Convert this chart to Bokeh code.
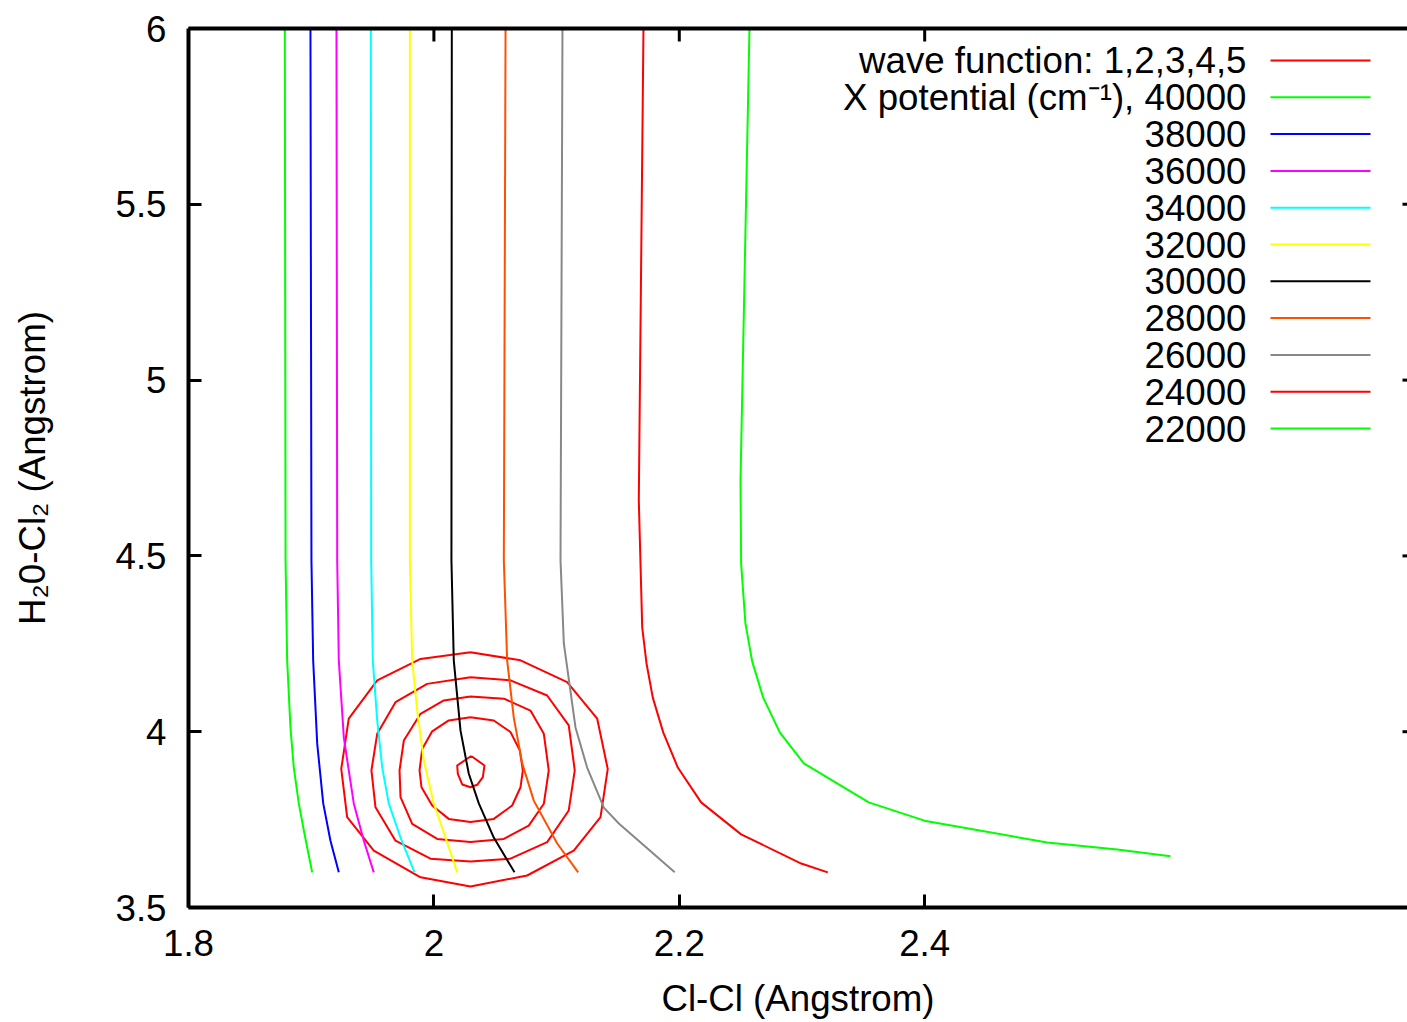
from bokeh.plotting import figure
from bokeh.models import FixedTicker, LinearAxis
from bokeh.embed import file_html
from bokeh.resources import INLINE
from bokeh.core.properties import value

FONT = "Liberation Sans"
FS = "36.7px"

# ---------------- axes ----------------
x_start, x_end = 1.8, 2.7935
y_start, y_end = 3.5, 6.0
x_ticks = [1.8, 2.0, 2.2, 2.4]
x_tick_labels = ["1.8", "2", "2.2", "2.4"]
y_ticks = [3.5, 4.0, 4.5, 5.0, 5.5, 6.0]
y_tick_labels = ["3.5", "4", "4.5", "5", "5.5", "6"]
x_title = "Cl-Cl (Angstrom)"
y_title = "H\u20820-Cl\u2082 (Angstrom)"

# ---------------- wave function contours (closed loops) ----------------
wf1_x = [2.0304, 2.0412, 2.0399, 2.0353, 2.0298, 2.0231, 2.0195, 2.0190]
wf1_y = [3.931, 3.904, 3.871, 3.849, 3.842, 3.850, 3.880, 3.904]

wf2_x = [2.0298, 2.0488, 2.0624, 2.0700, 2.0725, 2.0706, 2.0638, 2.0488,
         2.0298, 2.0121, 1.9986, 1.9899, 1.9883, 1.9905, 1.9986, 2.0121]
wf2_y = [4.041, 4.032, 3.999, 3.947, 3.890, 3.842, 3.790, 3.752,
         3.743, 3.752, 3.790, 3.842, 3.890, 3.951, 4.001, 4.032]

wf3_x = [2.0298, 2.0570, 2.0787, 2.0896, 2.0936, 2.0896, 2.0773, 2.0570,
         2.0298, 2.0027, 1.9823, 1.9728, 1.9720, 1.9755, 1.9891, 2.0081]
wf3_y = [4.100, 4.094, 4.060, 3.994, 3.890, 3.795, 3.733, 3.695,
         3.686, 3.695, 3.738, 3.814, 3.890, 3.975, 4.051, 4.089]

wf4_x = [2.0298, 2.0624, 2.0923, 2.1099, 2.1148, 2.1099, 2.0923, 2.0624,
         2.0298, 1.9972, 1.9687, 1.9524, 1.9491, 1.9538, 1.9687, 1.9945]
wf4_y = [4.155, 4.146, 4.103, 4.018, 3.890, 3.776, 3.686, 3.639,
         3.631, 3.639, 3.690, 3.785, 3.890, 3.994, 4.084, 4.136]

wf5_x = [2.0298, 2.0706, 2.1086, 2.1331, 2.1417, 2.1358, 2.1140, 2.0760,
         2.0298, 1.9891, 1.9510, 1.9293, 1.9245, 1.9306, 1.9538, 1.9891]
wf5_y = [4.226, 4.203, 4.141, 4.037, 3.894, 3.757, 3.662, 3.591,
         3.560, 3.586, 3.662, 3.757, 3.894, 4.037, 4.146, 4.207]

wf_color = "#ff0000"

# ---------------- X potential contours (cm^-1) ----------------
levels = [40000, 38000, 36000, 34000, 32000, 30000, 28000, 26000, 24000, 22000]
level_colors = ["#00ff00", "#0000ff", "#ff00ff", "#00ffff", "#ffff00",
                "#000000", "#ff5000", "#888888", "#ff0000", "#00ff00"]

c40000_x = [1.8785, 1.8791, 1.8804, 1.8831, 1.8858, 1.8899, 1.8940, 1.9008]
c40000_y = [6.000, 4.487, 4.203, 4.012, 3.898, 3.796, 3.719, 3.600]

c38000_x = [1.8994, 1.9002, 1.9016, 1.9049, 1.9098, 1.9157, 1.9225]
c38000_y = [6.000, 4.487, 4.203, 3.966, 3.796, 3.690, 3.600]

c36000_x = [1.9206, 1.9212, 1.9225, 1.9266, 1.9347, 1.9429, 1.9510]
c36000_y = [6.000, 4.487, 4.203, 3.983, 3.796, 3.690, 3.600]

c34000_x = [1.9486, 1.9489, 1.9502, 1.9538, 1.9579, 1.9632, 1.9728, 1.9842]
c34000_y = [6.000, 4.487, 4.203, 4.032, 3.898, 3.796, 3.699, 3.600]

c32000_x = [1.9804, 1.9804, 1.9823, 1.9864, 1.9918, 1.9999, 2.0095, 2.0190]
c32000_y = [6.000, 4.487, 4.203, 4.060, 3.918, 3.796, 3.699, 3.600]

c30000_x = [2.0146, 2.0143, 2.0162, 2.0217, 2.0284, 2.0366, 2.0488, 2.0657]
c30000_y = [6.000, 4.487, 4.203, 4.003, 3.881, 3.796, 3.699, 3.600]

c28000_x = [2.0584, 2.0570, 2.0597, 2.0651, 2.0720, 2.0814, 2.1005, 2.1176]
c28000_y = [6.000, 4.487, 4.203, 4.040, 3.910, 3.804, 3.682, 3.600]

c26000_x = [2.1048, 2.1032, 2.1059, 2.1154, 2.1249, 2.1385, 2.1507, 2.1963]
c26000_y = [6.000, 4.487, 4.251, 4.012, 3.898, 3.784, 3.739, 3.600]

c24000_x = [2.1708, 2.1670, 2.1698, 2.1733, 2.1784, 2.1869, 2.1988, 2.2178,
            2.2504, 2.2994, 2.3210]
c24000_y = [6.000, 4.658, 4.296, 4.194, 4.097, 3.998, 3.898, 3.799,
            3.708, 3.625, 3.600]

c22000_x = [2.2572, 2.2499, 2.2504, 2.2539, 2.2594, 2.2684, 2.2819, 2.3015,
            2.3544, 2.3998, 2.4998, 2.5569, 2.6003]
c22000_y = [6.000, 4.714, 4.478, 4.308, 4.200, 4.097, 3.998, 3.910,
            3.799, 3.747, 3.685, 3.665, 3.646]

legend_labels = ["wave function: 1,2,3,4,5",
                 "X potential (cm\u207b\u00b9), 40000",
                 "38000", "36000", "34000", "32000", "30000",
                 "28000", "26000", "24000", "22000"]
legend_colors = [wf_color] + level_colors

# ---------------- figure ----------------
W, H = 1407, 1022
LEFT, TOP, BOTTOM = 188, 28, 115
frame_w = W - LEFT
frame_h = H - TOP - BOTTOM
px_per_x = frame_w / (x_end - x_start)
px_per_y = frame_h / (y_end - y_start)

p = figure(width=W, height=H, x_range=(x_start, x_end), y_range=(y_start, y_end),
           output_backend="svg", toolbar_location=None,
           min_border_left=LEFT, min_border_right=0, min_border_top=TOP, min_border_bottom=BOTTOM,
           background_fill_color="white", border_fill_color="white")
p.outline_line_color = None
p.grid.visible = False

AX_W = 4
TICK_IN = 13

def style_axis(ax):
    ax.axis_line_width = AX_W
    ax.axis_line_color = "black"
    ax.major_tick_line_width = 3
    ax.major_tick_line_color = "black"
    ax.major_tick_in = TICK_IN
    ax.major_tick_out = 0
    ax.minor_tick_line_color = None
    ax.major_label_text_font = FONT
    ax.major_label_text_font_size = FS
    ax.major_label_text_color = "black"
    ax.axis_label_text_font = FONT
    ax.axis_label_text_font_size = FS
    ax.axis_label_text_font_style = "normal"
    ax.axis_label_text_color = "black"

xa = p.xaxis[0]
xa.ticker = FixedTicker(ticks=x_ticks)
xa.major_label_overrides = dict(zip(x_ticks, x_tick_labels))
style_axis(xa)
xa.major_label_standoff = 22
xa.axis_label = x_title
xa.axis_label_standoff = 19

ya = p.yaxis[0]
ya.ticker = FixedTicker(ticks=y_ticks)
ya.major_label_overrides = dict(zip(y_ticks, y_tick_labels))
style_axis(ya)
ya.major_label_standoff = 22
ya.axis_label = y_title
ya.axis_label_standoff = 59

# top border: an axis with no ticks (so no labels), only its line
top = LinearAxis(ticker=FixedTicker(ticks=[]))
top.axis_line_width = AX_W
top.axis_line_color = "black"
top.major_tick_line_color = None
top.minor_tick_line_color = None
p.add_layout(top, "above")

# top inner ticks
tick_dy = TICK_IN / px_per_y
top_ticks = x_ticks[1:]
p.segment(x0=top_ticks, y0=[y_end] * len(top_ticks), x1=top_ticks,
          y1=[y_end - tick_dy] * len(top_ticks), line_color="black", line_width=3)

# right-hand inner tick marks (the right border itself lies outside the picture)
rt_len = 5.0 / px_per_x
p.segment(x0=[x_end - rt_len] * len(y_ticks), y0=y_ticks,
          x1=[x_end] * len(y_ticks), y1=y_ticks, line_color="black", line_width=3)

# wave function loops
for xs, ys in [(wf1_x, wf1_y), (wf2_x, wf2_y), (wf3_x, wf3_y), (wf4_x, wf4_y), (wf5_x, wf5_y)]:
    p.line(xs + xs[:1], ys + ys[:1], line_color=wf_color, line_width=2, line_join="round")

# potential contours
contours = [(c40000_x, c40000_y), (c38000_x, c38000_y), (c36000_x, c36000_y),
            (c34000_x, c34000_y), (c32000_x, c32000_y), (c30000_x, c30000_y),
            (c28000_x, c28000_y), (c26000_x, c26000_y), (c24000_x, c24000_y),
            (c22000_x, c22000_y)]
for (xs, ys), col in zip(contours, level_colors):
    p.line(xs, ys, line_color=col, line_width=2, line_join="round")

# legend (text on the left, right-aligned; sample line on the right)
leg_text_x = x_start + (1246 - LEFT) / px_per_x
leg_line_x0 = x_start + (1270 - LEFT) / px_per_x
leg_line_x1 = x_start + (1370 - LEFT) / px_per_x
leg_y0 = y_end - (60 - TOP) / px_per_y
leg_dy = 36.8 / px_per_y
rows = list(range(len(legend_labels)))
leg_ys = [leg_y0 - i * leg_dy for i in rows]
p.text(x=[leg_text_x] * len(rows), y=leg_ys, text=legend_labels,
       text_align="right", text_baseline="middle",
       text_font=value(FONT), text_font_size=FS, text_color="black")
p.segment(x0=[leg_line_x0] * len(rows), y0=leg_ys, x1=[leg_line_x1] * len(rows), y1=leg_ys,
          line_color=legend_colors, line_width=2)

open("out.html", "w").write(file_html(p, INLINE))
